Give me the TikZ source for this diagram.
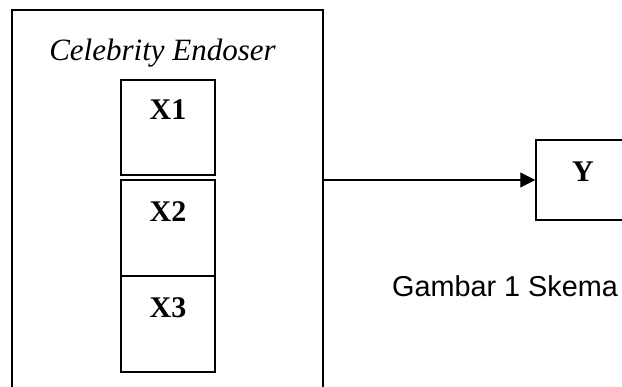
\documentclass[tikz,border=0pt]{standalone}
\usepackage{fontspec}
\setmainfont{Liberation Serif}
\newfontfamily\arialfont{Liberation Sans}
\usetikzlibrary{arrows.meta}
\begin{document}
\begin{tikzpicture}[x=1pt,y=-1pt,
  box/.style={draw,line width=1.5pt,inner sep=0pt},
  lbl/.style={anchor=base,inner sep=0pt,font=\fontsize{30}{36}\selectfont\bfseries}]
\useasboundingbox (0,0) rectangle (622,387);
\clip (0,0) rectangle (622,387);
\fill[white] (0,0) rectangle (622,387);
\node[box,minimum width=311pt,minimum height=400pt] (outer) at (167.5,210) {};
\node[anchor=base,inner sep=0pt,font=\fontsize{31}{37}\selectfont\itshape] (title) at (162.5,61) {Celebrity Endoser};
\node[box,minimum width=94pt,minimum height=95pt] (b1) at (168,127.5) {};
\node[box,minimum width=94pt,minimum height=96pt] (b2) at (168,228) {};
\node[box,minimum width=94pt,minimum height=96pt] (b3) at (168,324) {};
\node[lbl] (x1) at (168,120) {X1};
\node[lbl] (x2) at (168,222) {X2};
\node[lbl] (x3) at (168,318) {X3};
\node[box,minimum width=120pt,minimum height=80pt] (yb) at (596,180) {};
\node[lbl] (y) at (583,182) {Y};
\draw[line width=1.2pt,-{Triangle[length=15pt,width=15pt]}] (outer.east |- yb.west) -- (yb.west);
\node[anchor=base west,inner sep=0pt,font=\arialfont\fontsize{28.8}{34}\selectfont] (cap) at (392,297) {Gambar 1 Skema};
\end{tikzpicture}
\end{document}
